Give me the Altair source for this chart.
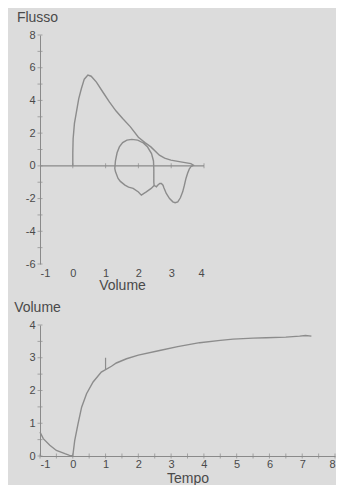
import altair as alt
import pandas as pd

# ---- Flow-volume loop (Volume L, Flusso L/s), in drawing order ----
fv_volume = [0.00, 0.00, 0.01, 0.05, 0.11, 0.18, 0.26, 0.35, 0.46, 0.56, 0.72, 0.92, 1.12, 1.32, 1.52,
             1.75, 2.00, 2.20, 2.38, 2.64, 2.80, 2.99, 3.29, 3.60, 3.68,
             3.60, 3.55, 3.50, 3.45, 3.40, 3.35, 3.28, 3.20, 3.12, 3.05, 2.95, 2.85, 2.78, 2.75,
             2.70, 2.65, 2.58, 2.55, 2.48, 2.39, 2.24, 2.09, 2.00, 1.84, 1.70, 1.59, 1.45, 1.38,
             1.30, 1.28, 1.30, 1.35, 1.42, 1.52, 1.65, 1.80, 1.98, 2.15, 2.28, 2.40, 2.46, 2.47,
             2.47, 2.47, 2.48]
fv_flow = [0.00, 0.80, 1.66, 2.60, 3.29, 4.10, 4.71, 5.30, 5.55, 5.48, 5.12, 4.50, 3.90, 3.35, 2.89,
           2.40, 1.75, 1.42, 1.16, 0.65, 0.47, 0.35, 0.24, 0.14, 0.04,
           -0.05, -0.20, -0.45, -0.77, -1.20, -1.59, -1.95, -2.20, -2.25, -2.20, -2.00, -1.69, -1.35, -1.18,
           -1.08, -1.08, -1.20, -1.28, -1.20, -1.38, -1.59, -1.79, -1.60, -1.38, -1.30, -1.18, -0.95, -0.77,
           -0.35, -0.16, 0.30, 0.80, 1.16, 1.42, 1.57, 1.62, 1.57, 1.40, 1.15, 0.75, 0.30, -0.20,
           -0.57, -1.00, -1.20]

# ---- Volume-time curve (Tempo s, Volume L) ----
vt_time = [-1.00, -0.90, -0.70, -0.50, -0.24, -0.10, 0.00, 0.06, 0.16, 0.27, 0.42, 0.62, 0.87, 1.18,
           1.33, 1.64, 2.00, 2.65, 3.20, 3.87, 4.50, 4.89, 5.50, 5.90, 6.50, 6.92, 7.10, 7.28]
vt_volume = [0.73, 0.53, 0.33, 0.17, 0.07, 0.02, 0.00, 0.48, 0.98, 1.49, 1.90, 2.26, 2.56, 2.74,
             2.84, 2.97, 3.08, 3.22, 3.34, 3.46, 3.53, 3.57, 3.60, 3.61, 3.63, 3.66, 3.68, 3.66]

# FEV1 marker
fev1_time = [1.0]
fev1_low = [2.64]
fev1_high = [3.00]

# axis ticks / labels
flow_tick_values = [-6, -5, -4, -3, -2, -1, 0, 1, 2, 3, 4, 5, 6, 7, 8]
flow_label_values = [-6, -4, -2, 0, 2, 4, 6, 8]
fv_x_labels = [-1, 0, 1, 2, 3, 4]
fv_zero_ticks = [0, 1, 2, 3, 4]
vt_x_labels = [-1, 0, 1, 2, 3, 4, 5, 6, 7, 8]
vt_x_ticks = [-1 + 0.5 * i for i in range(19)]
vt_y_labels = [0, 1, 2, 3, 4]
vt_y_ticks = [0.5 * i for i in range(9)]

LINE = "#8c8c8c"
AXIS = "#8a8a8a"
TEXT = "#4a4a4a"
FONT = "Liberation Sans"
HYPHEN = "datum.value < 0 ? '-' + abs(datum.value) : '' + datum.value"

fv_df = pd.DataFrame({"x": fv_volume, "y": fv_flow, "i": range(len(fv_volume))})
vt_df = pd.DataFrame({"x": vt_time, "y": vt_volume, "i": range(len(vt_time))})

# ---------------- top: flow-volume ----------------
fx_scale = alt.Scale(domain=[-1, 4], nice=False, zero=False)
fy_scale = alt.Scale(domain=[-6, 8], nice=False, zero=False)
fx_axis = alt.Axis(values=fv_x_labels, domain=False, ticks=False, grid=False, labelPadding=3,
                   labelExpr=HYPHEN,
                   title="Volume", titlePadding=0, labelFontSize=11, titleFontSize=14,
                   labelColor=TEXT, titleColor=TEXT, titleFontWeight="normal")
fy_axis = alt.Axis(values=flow_label_values, domain=True, domainColor=AXIS, ticks=False, grid=False,
                   labelPadding=5, labelExpr=HYPHEN, title="Flusso", titleAngle=0, titleAlign="center",
                   titleBaseline="bottom", titleX=-3, titleY=-11, labelFontSize=11,
                   titleFontSize=14, labelColor=TEXT, titleColor=TEXT, titleFontWeight="normal")

fX = alt.X("x:Q", scale=fx_scale, axis=fx_axis)
fY = alt.Y("y:Q", scale=fy_scale, axis=fy_axis)

fv_line = alt.Chart(fv_df).mark_line(color=LINE, strokeWidth=1.4).encode(x=fX, y=fY, order="i:Q")
zero_rule = alt.Chart(pd.DataFrame({"x": [-1], "x2": [4], "y": [0]})).mark_rule(
    color=AXIS, strokeWidth=1.2).encode(x=fX, x2="x2:Q", y=fY)
fy_ticks = alt.Chart(pd.DataFrame({"x": [-1] * len(flow_tick_values), "y": flow_tick_values})).mark_tick(
    orient="horizontal", size=5, thickness=1, color=AXIS).encode(x=fX, y=fY)
fzero_ticks = alt.Chart(pd.DataFrame({"x": fv_zero_ticks, "y": [0] * len(fv_zero_ticks)})).mark_tick(
    orient="vertical", size=5, thickness=1, color=AXIS).encode(x=fX, y=fY)

top = alt.layer(zero_rule, fy_ticks, fzero_ticks, fv_line).properties(width=164, height=229)

# ---------------- bottom: volume-time ----------------
vx_scale = alt.Scale(domain=[-1, 8], nice=False, zero=False)
vy_scale = alt.Scale(domain=[0, 4], nice=False, zero=False)
vx_axis = alt.Axis(values=vt_x_labels, domain=True, domainColor=AXIS, ticks=False, grid=False,
                   labelPadding=2, labelExpr=HYPHEN, title="Tempo", titlePadding=2,
                   labelFontSize=11, titleFontSize=14,
                   labelColor=TEXT, titleColor=TEXT, titleFontWeight="normal")
vy_axis = alt.Axis(values=vt_y_labels, domain=True, domainColor=AXIS, ticks=False, grid=False,
                   labelPadding=5, title="Volume", titleAngle=0, titleAlign="center",
                   titleBaseline="bottom", titleX=-3, titleY=-11, labelFontSize=11,
                   titleFontSize=14, labelColor=TEXT, titleColor=TEXT, titleFontWeight="normal")
vX = alt.X("x:Q", scale=vx_scale, axis=vx_axis)
vY = alt.Y("y:Q", scale=vy_scale, axis=vy_axis)

vt_line = alt.Chart(vt_df).mark_line(color=LINE, strokeWidth=1.4).encode(x=vX, y=vY, order="i:Q")
fev1 = alt.Chart(pd.DataFrame({"x": fev1_time, "y": fev1_low, "y2": fev1_high})).mark_rule(
    color=LINE, strokeWidth=1.2).encode(x=vX, y=vY, y2="y2:Q")
vx_ticks = alt.Chart(pd.DataFrame({"x": vt_x_ticks, "y": [0] * len(vt_x_ticks)})).mark_tick(
    orient="vertical", size=5, thickness=1, color=AXIS).encode(x=vX, y=vY)
vy_ticks = alt.Chart(pd.DataFrame({"x": [-1] * len(vt_y_ticks), "y": vt_y_ticks})).mark_tick(
    orient="horizontal", size=5, thickness=1, color=AXIS).encode(x=vX, y=vY)

bottom = alt.layer(vx_ticks, vy_ticks, fev1, vt_line).properties(width=295, height=131)

chart = alt.vconcat(top, bottom, spacing=8).resolve_scale(x="independent", y="independent").properties(
    padding={"left": 5, "top": 2, "right": 0, "bottom": 0}
).configure(
    background="#dcdcdc", font=FONT
).configure_view(stroke=None).configure_axis(labelFont=FONT, titleFont=FONT)

chart.save("out.html", embed_options={"renderer": "svg", "actions": False})
